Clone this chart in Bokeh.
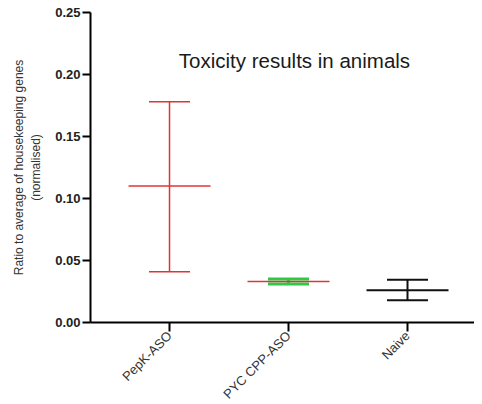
from bokeh.plotting import figure
from bokeh.models import (ColumnDataSource, Whisker, TeeHead, FixedTicker,
                          NumeralTickFormatter, Range1d, Label)
from bokeh.embed import file_html
from bokeh.resources import INLINE

categories = ["PepK-ASO", "PYC CPP-ASO", "Naive"]
means = [0.110, 0.033, 0.026]
upper = [0.178, 0.035, 0.0345]
lower = [0.041, 0.031, 0.018]
whisker_colors = ["#e03434", "#2ccb45", "#111111"]
mean_colors = ["#e03434", "#e03434", "#111111"]
whisker_widths = [1.5, 3, 2]
mean_widths = [1.5, 1.5, 2]
y_ticks = [0.0, 0.05, 0.10, 0.15, 0.20, 0.25]

xs = list(range(len(categories)))
src = ColumnDataSource(dict(x=xs, mean=means, mc=mean_colors, mw=mean_widths))

p = figure(frame_width=384, frame_height=310, output_backend="svg",
           toolbar_location=None,
           x_range=Range1d(-0.664, 2.563), y_range=Range1d(0, 0.25),
           min_border_left=90, min_border_top=12, min_border_bottom=0,
           min_border_right=0)
p.outline_line_color = None
p.xgrid.visible = False
p.ygrid.visible = False
p.background_fill_color = "white"

for i in range(len(categories)):
    sub = ColumnDataSource(dict(x=[xs[i]], upper=[upper[i]], lower=[lower[i]]))
    lw = whisker_widths[i]
    w = Whisker(source=sub, base="x", upper="upper", lower="lower",
                line_color=whisker_colors[i], line_width=lw,
                upper_head=TeeHead(size=41, line_color=whisker_colors[i], line_width=lw),
                lower_head=TeeHead(size=41, line_color=whisker_colors[i], line_width=lw))
    p.add_layout(w)

p.dash(x="x", y="mean", source=src, size=82, line_color="mc",
       line_width="mw", angle=0)

p.yaxis.ticker = FixedTicker(ticks=y_ticks)
p.yaxis.formatter = NumeralTickFormatter(format="0.00")
p.yaxis.minor_tick_line_color = None
p.yaxis.major_tick_out = 8
p.yaxis.major_tick_in = 0
p.yaxis.axis_line_width = 2
p.yaxis.major_tick_line_width = 2
p.yaxis.major_label_text_font = "Liberation Sans"
p.yaxis.major_label_text_font_style = "bold"
p.yaxis.major_label_text_font_size = "13px"
p.yaxis.major_label_text_color = "#222222"
p.yaxis.major_label_standoff = 2
p.yaxis.axis_label = "Ratio to average of housekeeping genes\n(normalised)"
p.yaxis.axis_label_text_font = "Liberation Sans"
p.yaxis.axis_label_text_font_style = "normal"
p.yaxis.axis_label_text_font_size = "12px"
p.yaxis.axis_label_text_color = "#333333"
p.yaxis.axis_label_standoff = 9

p.xaxis.ticker = FixedTicker(ticks=xs)
p.xaxis.major_label_overrides = {i: c for i, c in zip(xs, categories)}
p.xaxis.minor_tick_line_color = None
p.xaxis.major_tick_out = 9
p.xaxis.major_tick_in = 0
p.xaxis.axis_line_width = 2
p.xaxis.major_tick_line_width = 2
p.xaxis.major_label_orientation = 0.785
p.xaxis.major_label_text_font = "Liberation Sans"
p.xaxis.major_label_text_font_size = "13px"
p.xaxis.major_label_text_color = "#333333"
p.xaxis.major_label_standoff = 2

title = Label(x=1.05, y=0.211, text="Toxicity results in animals",
              text_font="Liberation Sans", text_font_size="20.5px",
              text_color="#1a1a1a", text_align="center", text_baseline="middle")
p.add_layout(title)

open("out.html", "w").write(file_html(p, INLINE))
